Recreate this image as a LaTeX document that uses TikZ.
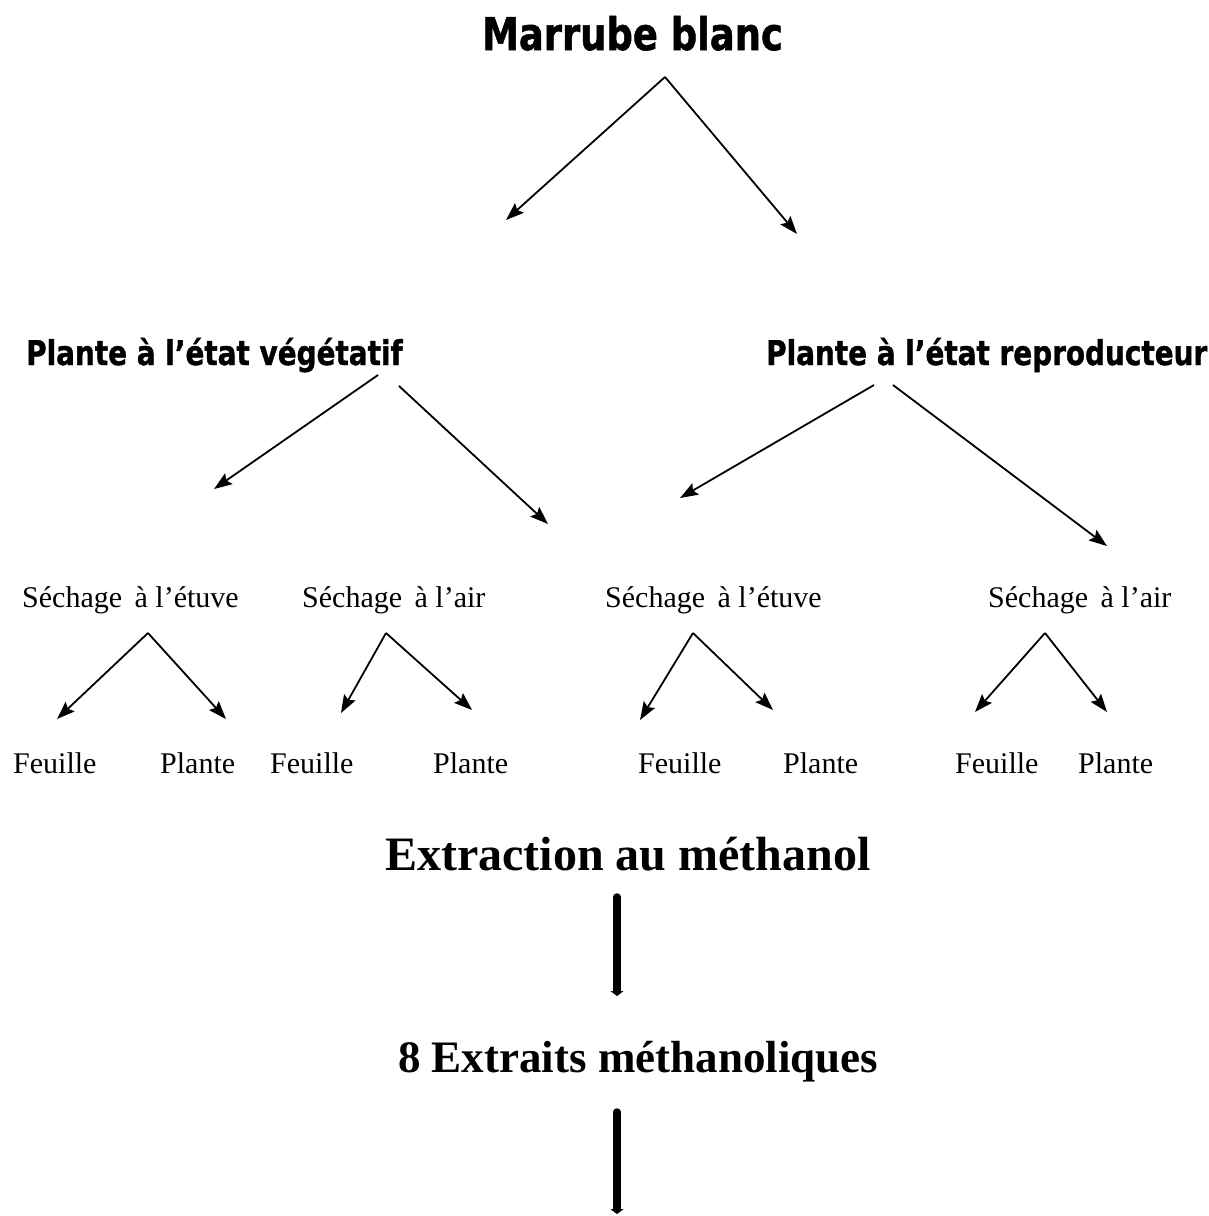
\documentclass[tikz,border=0pt]{standalone}
\usepackage{graphicx}
\usepackage{fontspec}
\setmainfont{Liberation Serif}
\newfontfamily\verdana{DejaVu Sans}[BoldFeatures={FakeBold=1.3}]
\usetikzlibrary{arrows.meta}

\newcommand{\etroit}[1]{\scalebox{0.82}[1]{#1}}
\tikzset{
  titre/.style={font=\verdana\bfseries\fontsize{45}{50}\selectfont,inner sep=0pt,anchor=base west},
  etat/.style={font=\verdana\bfseries\fontsize{34}{38}\selectfont,inner sep=0pt,anchor=base west},
  texte/.style={font=\fontsize{30}{34}\selectfont,inner sep=0pt,anchor=base west},
  grand/.style={font=\bfseries\fontsize{48}{54}\selectfont,inner sep=0pt,anchor=base west},
  fleche/.style={line width=1.8pt,-{Stealth[length=18pt,width=13pt,inset=3pt]}},
  grosse/.style={line width=7.5pt,line cap=round,-{Triangle[length=5pt,width=13pt]}}
}

\begin{document}
\begin{tikzpicture}[x=1pt,y=-1pt]
\useasboundingbox (0,0) rectangle (1209,1216);

\node[titre] at (482,50) (mb) {\etroit{Marrube blanc}};
\node[etat] at (26,365) (veg) {\etroit{Plante à l’état végétatif}};
\node[etat] at (766,365) (rep) {\etroit{Plante à l’état reproducteur}};

\node[texte] at (22,607) (s1) {Séchage\, à l’étuve};
\node[texte] at (302,607) (s2) {Séchage\, à l’air};
\node[texte] at (605,607) (s3) {Séchage\, à l’étuve};
\node[texte] at (988,607) (s4) {Séchage\, à l’air};

\node[texte] at (13,773) (f1) {Feuille};
\node[texte] at (160,773) (p1) {Plante};
\node[texte] at (270,773) (f2) {Feuille};
\node[texte] at (433,773) (p2) {Plante};
\node[texte] at (638,773) (f3) {Feuille};
\node[texte] at (783,773) (p3) {Plante};
\node[texte] at (955,773) (f4) {Feuille};
\node[texte] at (1078,773) (p4) {Plante};

\node[grand] at (385,870) (ext) {Extraction au méthanol};
\node[grand,font=\bfseries\fontsize{45}{50}\selectfont] at (398,1072) (ex8) {8 Extraits méthanoliques};

% points de depart et d'arrivee des fleches
\coordinate (mb-s) at (665,77);
\coordinate (veg-a) at (378,375);
\coordinate (veg-b) at (399,386);
\coordinate (rep-a) at (874,385);
\coordinate (rep-b) at (893,385);
\coordinate (s1-s) at (148,633);
\coordinate (s2-s) at (386,633);
\coordinate (s3-s) at (693,633);
\coordinate (s4-s) at (1045,633);
\coordinate (ext-s) at (617,897);
\coordinate (ext-e) at (617,996);
\coordinate (ex8-s) at (617,1112);
\coordinate (ex8-e) at (617,1214);

\coordinate (veg-t) at (506,220);
\coordinate (rep-t) at (797,234);
\coordinate (s1-t) at (214,489);
\coordinate (s2-t) at (548,524);
\coordinate (s3-t) at (680,498);
\coordinate (s4-t) at (1107,546);
\coordinate (f1-t) at (57,719);
\coordinate (p1-t) at (226,719);
\coordinate (f2-t) at (341,713);
\coordinate (p2-t) at (472,710);
\coordinate (f3-t) at (640,720);
\coordinate (p3-t) at (773,710);
\coordinate (f4-t) at (975,712);
\coordinate (p4-t) at (1107,712);

\draw[fleche] (mb-s) -- (veg-t);
\draw[fleche] (mb-s) -- (rep-t);
\draw[fleche] (veg-a) -- (s1-t);
\draw[fleche] (veg-b) -- (s2-t);
\draw[fleche] (rep-a) -- (s3-t);
\draw[fleche] (rep-b) -- (s4-t);
\draw[fleche] (s1-s) -- (f1-t);
\draw[fleche] (s1-s) -- (p1-t);
\draw[fleche] (s2-s) -- (f2-t);
\draw[fleche] (s2-s) -- (p2-t);
\draw[fleche] (s3-s) -- (f3-t);
\draw[fleche] (s3-s) -- (p3-t);
\draw[fleche] (s4-s) -- (f4-t);
\draw[fleche] (s4-s) -- (p4-t);

\draw[grosse] (ext-s) -- (ext-e);
\draw[grosse] (ex8-s) -- (ex8-e);

\end{tikzpicture}
\end{document}
